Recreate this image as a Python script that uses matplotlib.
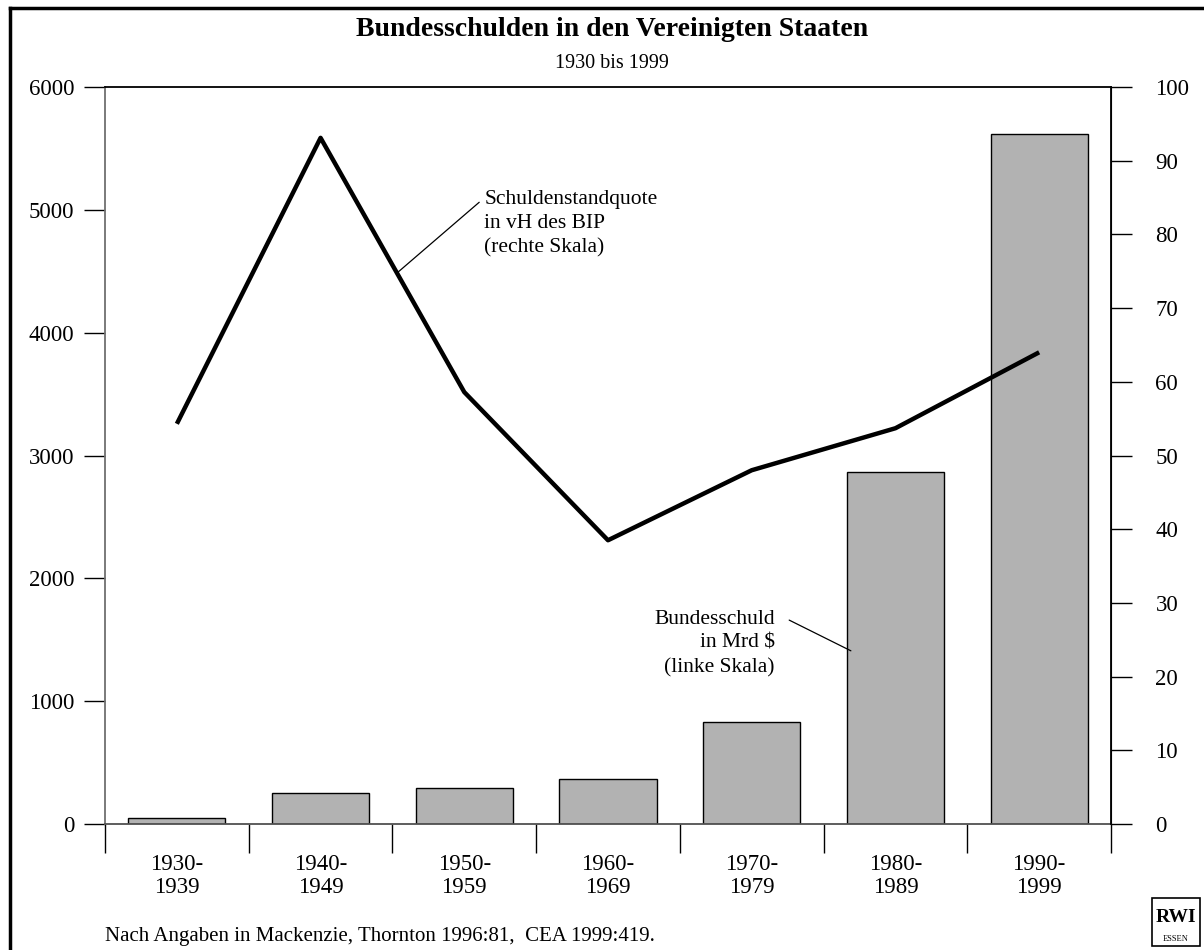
import numpy as np
import matplotlib
matplotlib.use('Agg')
import matplotlib.pyplot as plt
from matplotlib.lines import Line2D
from matplotlib.patches import Rectangle

plt.rcParams['font.family'] = ['Liberation Serif', 'DejaVu Serif']

# data
decades = ['1930-\n1939', '1940-\n1949', '1950-\n1959', '1960-\n1969',
           '1970-\n1979', '1980-\n1989', '1990-\n1999']
debt_bn = [50, 255, 292, 368, 830, 2868, 5620]        # Mrd $, left axis
debt_ratio = [54.3, 93.1, 58.6, 38.5, 48.0, 53.7, 64.0]  # % of GDP, right axis
left_ticks = [0, 1000, 2000, 3000, 4000, 5000, 6000]
right_ticks = [0, 10, 20, 30, 40, 50, 60, 70, 80, 90, 100]

fig = plt.figure(figsize=(12.04, 9.5), dpi=100)
ax = fig.add_axes([105/1204, 1-824/950, (1111-105)/1204, (824-87)/950])
x = np.arange(len(decades))

ax.bar(x, debt_bn, width=0.675, color='#b2b2b2', edgecolor='black', linewidth=1, zorder=2)
ax.set_xlim(-0.5, len(decades) - 0.5)
ax.set_ylim(0, 6000)
ax.set_yticks(left_ticks)
ax.set_yticklabels([str(t) for t in left_ticks], fontsize=16.5)
ax.tick_params(axis='y', direction='out', length=15, width=1, pad=7)

# category separators below axis
ax.set_xticks(np.arange(-0.5, len(decades), 1))
ax.set_xticklabels([])
ax.set_xticks(x, minor=True)
ax.set_xticklabels(decades, minor=True, fontsize=16.5, linespacing=1.13)
ax.tick_params(axis='x', which='major', direction='out', length=21, width=1)
ax.tick_params(axis='x', which='minor', length=0, pad=21.5)

for s in ['left', 'top', 'bottom']:
    ax.spines[s].set_color('#707070')
    ax.spines[s].set_linewidth(1.3)
ax.spines['top'].set_color('black')
ax.spines['bottom'].set_color('#505050')

ax2 = ax.twinx()
ax2.plot(x, debt_ratio, color='black', linewidth=3.2, solid_capstyle='butt', zorder=3)
ax2.set_ylim(0, 100)
ax2.set_yticks(right_ticks)
ax2.set_yticklabels([str(t) for t in right_ticks], fontsize=16.5)
ax2.tick_params(axis='y', direction='out', length=15, width=1, pad=17)
ax2.spines['right'].set_linewidth(1.3)
for s in ['left', 'top', 'bottom']:
    ax2.spines[s].set_visible(False)

# annotations
ax2.annotate('Schuldenstandquote\nin vH des BIP\n(rechte Skala)',
             xy=(1.54, 74.9), xytext=(2.14, 86.0),
             fontsize=15.5, ha='left', va='top', linespacing=1.35,
             arrowprops=dict(arrowstyle='-', color='black', lw=0.9, shrinkA=0, shrinkB=0,
                             relpos=(-0.03, 0.82)))
ax.annotate('Bundesschuld\nin Mrd $\n(linke Skala)',
             xy=(4.69, 1410), xytext=(4.16, 1742),
             fontsize=15.5, ha='right', va='top', linespacing=1.35,
             arrowprops=dict(arrowstyle='-', color='black', lw=0.9, shrinkA=0, shrinkB=0,
                             relpos=(1.12, 0.85)))

# titles
fig.text(0.508, 1-30/950, 'Bundesschulden in den Vereinigten Staaten',
         ha='center', va='center', fontsize=20, fontweight='bold')
fig.text(0.508, 1-63/950, '1930 bis 1999', ha='center', va='center', fontsize=14.5)
fig.text(105/1204, 1-936/950, 'Nach Angaben in Mackenzie, Thornton 1996:81,  CEA 1999:419.',
         ha='left', va='center', fontsize=15)

# frame around figure
fig.add_artist(Line2D([10/1204, 1], [1-8/950, 1-8/950], transform=fig.transFigure,
                      color='black', linewidth=2.5))
fig.add_artist(Line2D([10/1204, 10/1204], [0, 1-8/950], transform=fig.transFigure,
                      color='black', linewidth=2.5))

# RWI logo
fig.add_artist(Rectangle((1152/1204, 1-946/950), 48/1204, 48/950, transform=fig.transFigure,
                         fill=False, edgecolor='black', linewidth=1.2))
fig.text(1176/1204, 1-917/950, 'RWI', ha='center', va='center', fontsize=14,
         fontweight='bold')
fig.text(1176/1204, 1-939/950, 'ESSEN', ha='center', va='center', fontsize=6)

fig.savefig('out.png', dpi=100)
